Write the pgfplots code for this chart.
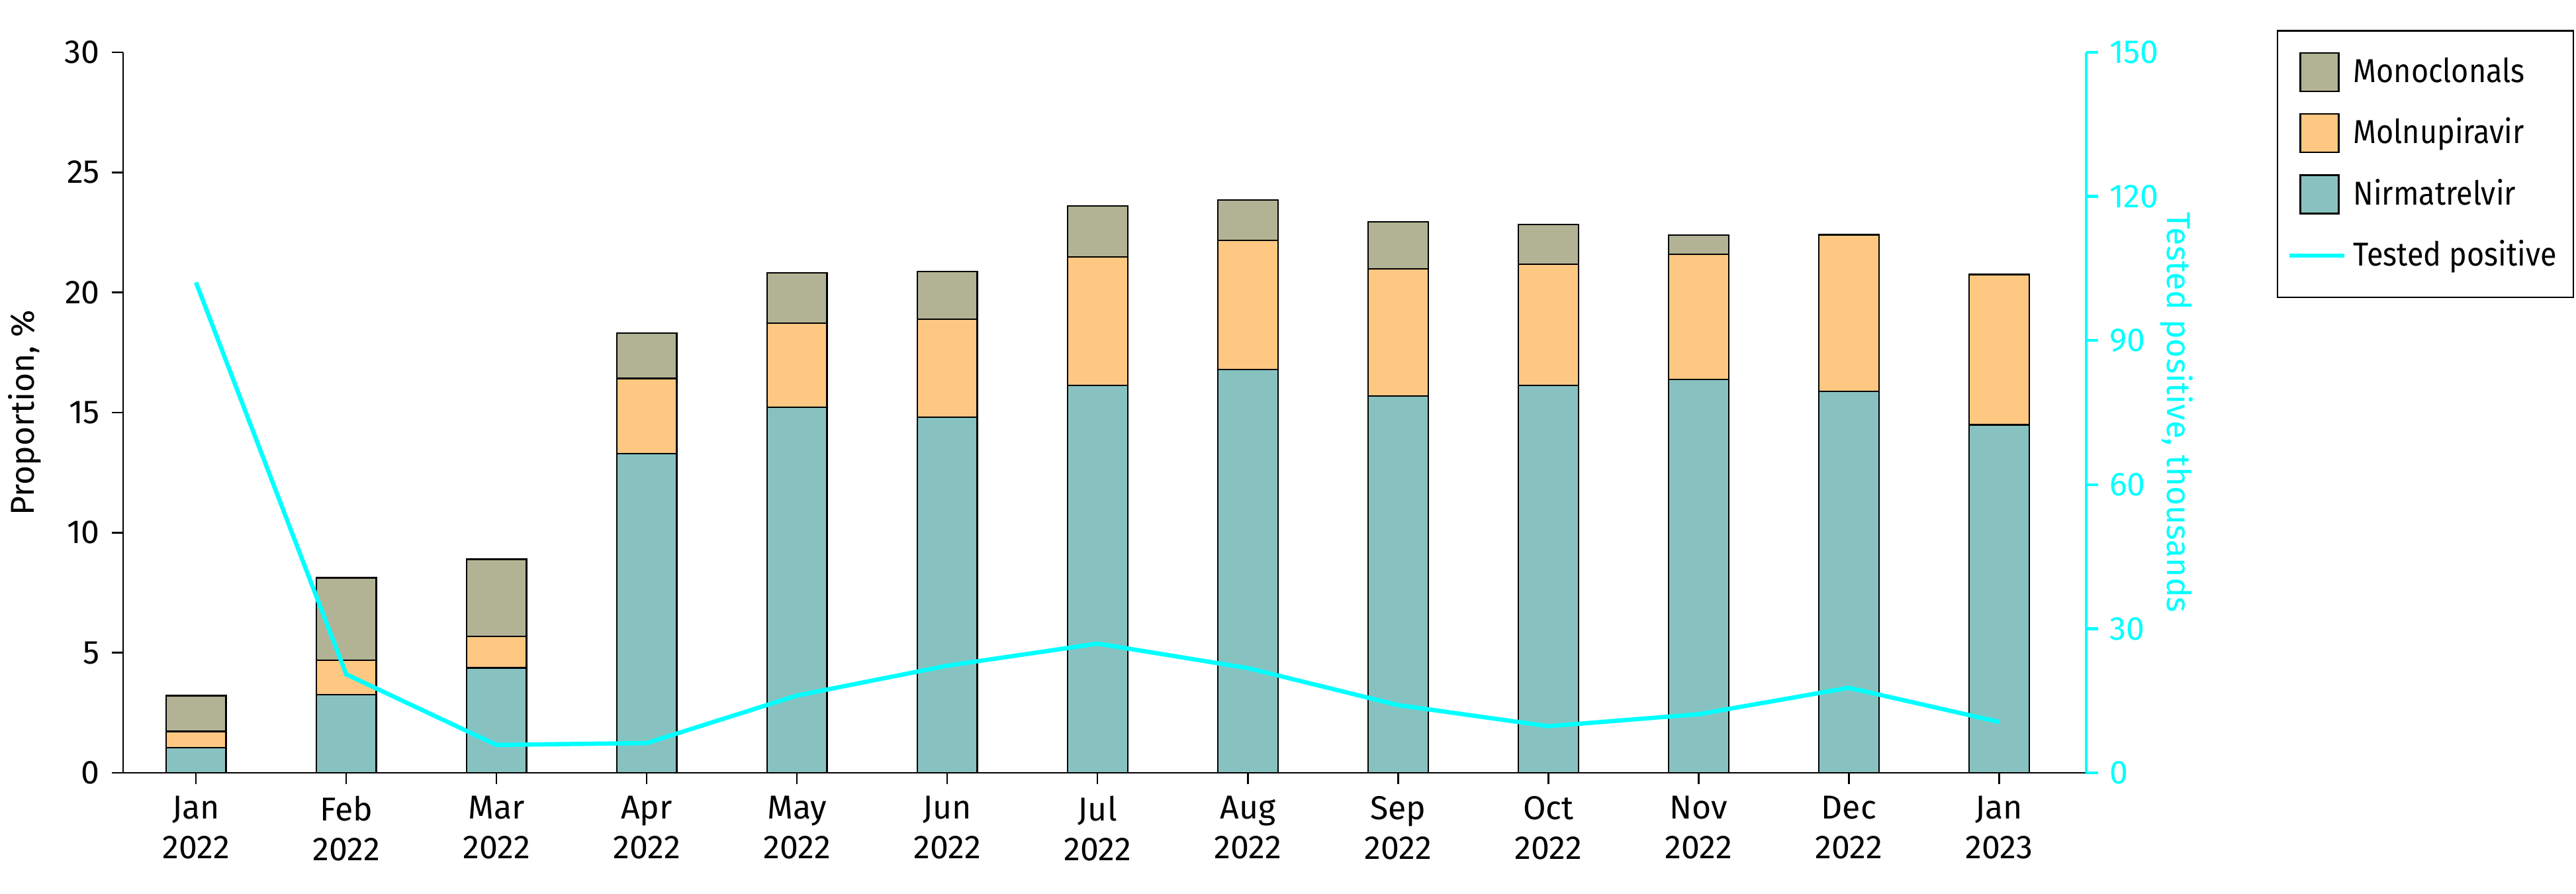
\documentclass[border=0pt]{standalone}
\usepackage{fontspec}
\setmainfont{Fira Sans}
\newfontfamily\legfont{Fira Sans}[FakeStretch=0.9]
\usepackage{pgfplots}
\usepackage{pgfplotstable}
\pgfplotsset{compat=1.18}
\definecolor{nirc}{RGB}{135,194,192}
\definecolor{molc}{RGB}{254,200,130}
\definecolor{monc}{RGB}{178,179,149}
\definecolor{cyn}{RGB}{0,255,255}

\pgfplotstableread{
x nir mol mon pos
0  1.04 0.68 1.49 102.1
1  3.26 1.42 3.44 20.5
2  4.37 1.30 3.22 5.8
3  13.28 3.14 1.88 6.2
4  15.21 3.51 2.10 16.1
5  14.81 4.07 2.00 22.3
6  16.14 5.33 2.13 26.9
7  16.79 5.37 1.70 21.8
8  15.68 5.30 1.97 14.1
9  16.12 5.06 1.66 9.7
10 16.37 5.21 0.81 12.2
11 15.89 6.51 0.00 17.7
12 14.49 6.26 0.00 10.6
}\data

\begin{document}
\begin{tikzpicture}
\useasboundingbox (0,0) rectangle (778.4pt,270pt);
\pgfplotsset{
  common/.style={
    scale only axis,
    width=593.2pt, height=217.6pt,
    at={(37.2pt,36.6pt)}, anchor=south west,
    xmin=-0.485, xmax=12.58,
    /pgf/number format/assume math mode=true,
    tick label style={font=\fontsize{10}{12}\selectfont},
    label style={font=\fontsize{10}{12}\selectfont},
    major tick length=3.5pt,
    tick align=outside,
  }
}
\begin{axis}[
  common,
  ybar stacked, bar width=0.4,
  ymin=0, ymax=30, ytick={0,5,...,30},
  axis x line*=bottom, axis y line*=left,
  axis line style={black, line width=0.5pt},
  tick style={black, line width=0.5pt},
  xtick={0,...,12},
  xticklabels={Jan\\2022,Feb\\2022,Mar\\2022,Apr\\2022,May\\2022,Jun\\2022,Jul\\2022,Aug\\2022,Sep\\2022,Oct\\2022,Nov\\2022,Dec\\2022,Jan\\2023},
  xticklabel style={align=center, yshift=0pt},
  ylabel={Proportion, \%},
  ylabel style={at={(axis description cs:-0.0502,0.5)}, anchor=center},
]
\addplot[fill=nirc, draw=black, line width=0.45pt] table[x=x, y=nir] {\data};
\addplot[fill=molc, draw=black, line width=0.45pt] table[x=x, y=mol] {\data};
\addplot[fill=monc, draw=black, line width=0.45pt] table[x=x, y=mon] {\data};
\end{axis}
\begin{axis}[
  common,
  ymin=0, ymax=150, ytick={0,30,...,150},
  axis x line=none,
  axis y line*=right,
  y axis line style={cyn, line width=0.9pt},
  ytick style={cyn, line width=0.9pt},
  yticklabel style={cyn},
  ylabel={Tested positive, thousands},
  ylabel style={cyn, at={(axis description cs:1.0462,0.5)}, anchor=center, rotate=180},
  legend style={at={(1.097,1.031)}, anchor=north west, draw=black, line width=0.5pt,
    font=\legfont\fontsize{10}{12}\selectfont, inner xsep=3pt, inner ysep=6pt,
    row sep=5.2pt, cells={anchor=west}},
  legend cell align=left,
]
\addlegendimage{legend image code/.code={\draw[fill=monc,draw=black,line width=0.5pt] (0pt,-5.8pt) rectangle (11.6pt,5.8pt);}}
\addlegendentry{Monoclonals}
\addlegendimage{legend image code/.code={\draw[fill=molc,draw=black,line width=0.5pt] (0pt,-5.8pt) rectangle (11.6pt,5.8pt);}}
\addlegendentry{Molnupiravir}
\addlegendimage{legend image code/.code={\draw[fill=nirc,draw=black,line width=0.5pt] (0pt,-5.8pt) rectangle (11.6pt,5.8pt);}}
\addlegendentry{Nirmatrelvir}
\addplot[cyn, line width=1.3pt, legend image code/.code={\draw[cyn,line width=1.3pt] (-3.2pt,0pt) -- (13.4pt,0pt);}] table[x=x, y=pos] {\data};
\addlegendentry{Tested positive}
\end{axis}
\end{tikzpicture}
\end{document}
